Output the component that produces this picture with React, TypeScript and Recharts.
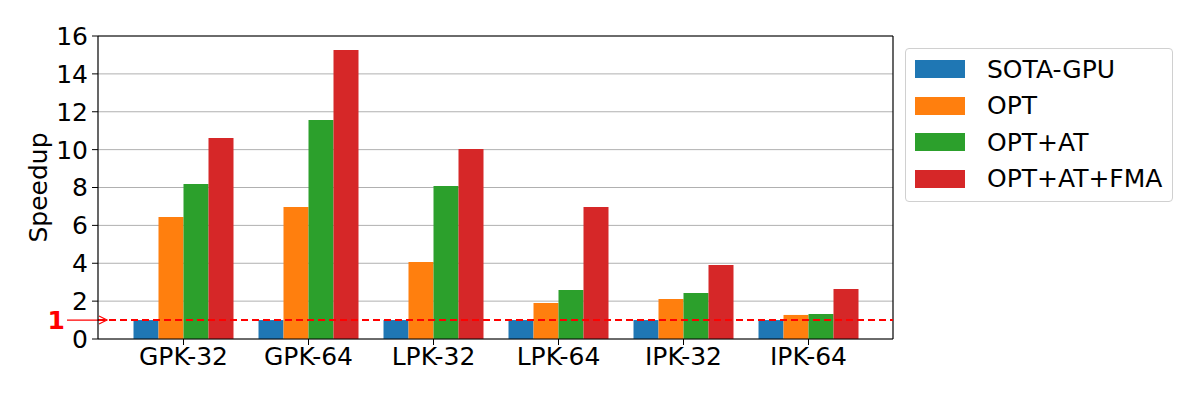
import React from "react";
import {
  BarChart,
  Bar,
  XAxis,
  YAxis,
  CartesianGrid,
  ReferenceLine,
} from "recharts";

const kernels = ["GPK-32", "GPK-64", "LPK-32", "LPK-64", "IPK-32", "IPK-64"];
const sotaGpu = [1, 1, 1, 1, 1, 1];
const opt = [6.44, 6.97, 4.07, 1.9, 2.11, 1.27];
const optAt = [8.18, 11.56, 8.08, 2.59, 2.43, 1.32];
const optAtFma = [10.61, 15.26, 10.03, 6.97, 3.91, 2.64];
const yTicks = [0, 2, 4, 6, 8, 10, 12, 14, 16];

const series = [
  { key: "sota", name: "SOTA-GPU", color: "#1f77b4" },
  { key: "opt", name: "OPT", color: "#ff7f0e" },
  { key: "optAt", name: "OPT+AT", color: "#2ca02c" },
  { key: "optAtFma", name: "OPT+AT+FMA", color: "#d62728" },
];

const data = kernels.map((k, i) => ({
  name: k,
  sota: sotaGpu[i],
  opt: opt[i],
  optAt: optAt[i],
  optAtFma: optAtFma[i],
}));

const FONT = "DejaVu Sans, sans-serif";
const FS = 25;

function LegendBox() {
  return (
    <div
      style={{
        position: "absolute",
        left: 905,
        top: 48,
        boxSizing: "border-box",
        width: 268,
        height: 154,
        border: "1px solid #d0d0d0",
        borderRadius: 4,
        background: "#fff",
        padding: "2px 0 0 9px",
        fontFamily: FONT,
        fontSize: FS,
        color: "#000",
      }}
    >
      {series.map((s) => (
        <div
          key={s.key}
          style={{ display: "flex", alignItems: "center", height: 36.5 }}
        >
          <div
            style={{ width: 50, height: 18, background: s.color, marginRight: 22 }}
          />
          <span>{s.name}</span>
        </div>
      ))}
    </div>
  );
}

function OneMarker(props: any) {
  const { viewBox } = props;
  const x = viewBox.x;
  const y = viewBox.y;
  return (
    <g>
      <text
        x={x - 33}
        y={y + 9}
        textAnchor="end"
        fill="#ff0000"
        fontWeight="bold"
        fontSize={FS}
        fontFamily={FONT}
      >
        1
      </text>
      <line x1={x - 31} y1={y} x2={x + 9} y2={y} stroke="#ff0000" strokeWidth={1.2} />
      <path
        d={`M${x + 1},${y - 4} L${x + 9},${y} L${x + 1},${y + 4}`}
        fill="none"
        stroke="#ff0000"
        strokeWidth={1.2}
      />
    </g>
  );
}

function YLabel(props: any) {
  const { viewBox } = props;
  const cx = viewBox.x + 38;
  const cy = viewBox.y + viewBox.height / 2;
  return (
    <text
      x={cx}
      y={cy}
      transform={`rotate(-90, ${cx}, ${cy})`}
      textAnchor="middle"
      dominantBaseline="central"
      fontSize={FS}
      fontFamily={FONT}
      fill="#000"
    >
      Speedup
    </text>
  );
}

export default function App() {
  return (
    <div
      style={{
        position: "absolute",
        left: 0,
        top: 0,
        width: 1200,
        height: 400,
        background: "#fff",
      }}
    >
      <BarChart
        width={1200}
        height={400}
        data={data}
        margin={{ top: 36, right: 307, bottom: 0, left: 0 }}
        barCategoryGap="10%"
        barGap={0}
        style={{ fontFamily: FONT }}
      >
        <CartesianGrid vertical={false} stroke="#b0b0b0" strokeWidth={1} />
        {/* top and right frame edges */}
        <CartesianGrid
          stroke="#000"
          strokeWidth={1.2}
          horizontalCoordinatesGenerator={({ offset }: any) => [offset.top]}
          verticalCoordinatesGenerator={({ offset }: any) => [
            offset.left + offset.width,
          ]}
        />
        <XAxis
          dataKey="name"
          height={61}
          padding={{ left: 23, right: 22 }}
          tick={{ fontSize: FS, fill: "#000", fontFamily: FONT }}
          tickLine={{ stroke: "#000" }}
          tickSize={6}
          tickMargin={2}
          axisLine={{ stroke: "#000", strokeWidth: 1.2 }}
        />
        <YAxis
          width={98}
          domain={[0, 16]}
          ticks={yTicks}
          interval={0}
          tick={{ fontSize: FS, fill: "#000", fontFamily: FONT }}
          tickLine={{ stroke: "#000" }}
          tickSize={6}
          tickMargin={4}
          axisLine={{ stroke: "#000", strokeWidth: 1.2 }}
          label={<YLabel />}
        />
        {series.map((s) => (
          <Bar
            key={s.key}
            dataKey={s.key}
            name={s.name}
            fill={s.color}
            isAnimationActive={false}
          />
        ))}
        <ReferenceLine
          y={1}
          stroke="#ff0000"
          strokeWidth={2}
          strokeDasharray="7 4"
          label={<OneMarker />}
          ifOverflow="visible"
        />
      </BarChart>
      <LegendBox />
    </div>
  );
}
